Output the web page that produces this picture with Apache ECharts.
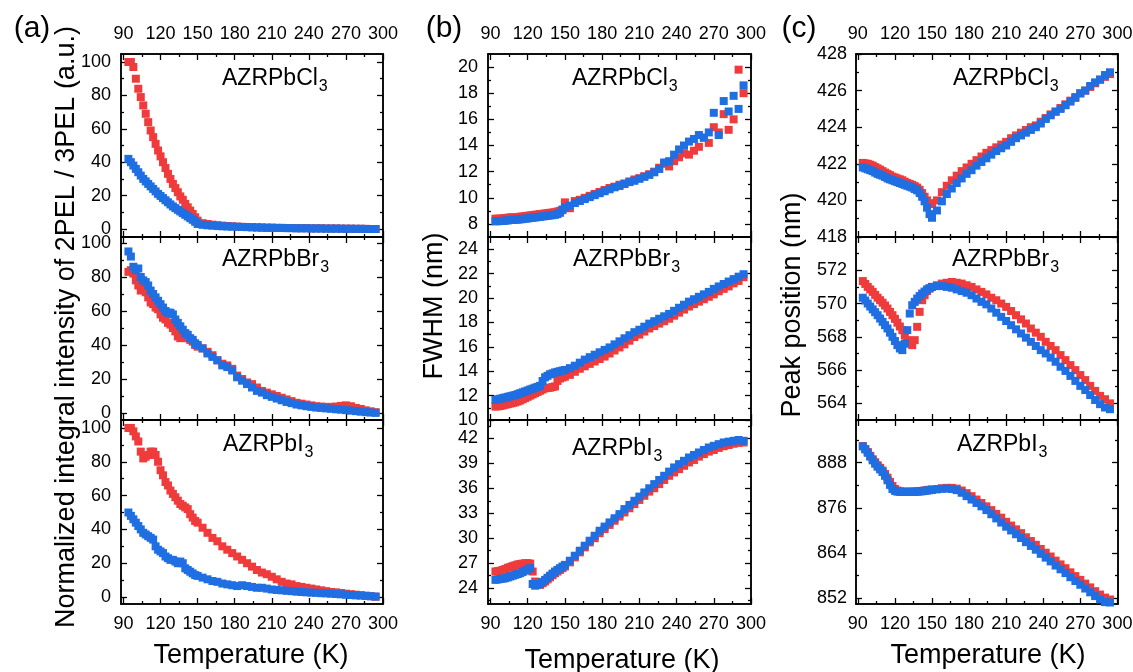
<!DOCTYPE html>
<html><head><meta charset="utf-8">
<script src="https://cdn.jsdelivr.net/npm/echarts@6/dist/echarts.min.js"></script>
<style>html,body{margin:0;padding:0;background:#fff}#c{width:1133px;height:672px}</style>
</head><body><div id="c"></div>
<script>
// ---------------- DATA ----------------
// temperatures (K): every 2 K up to 150 K, every 4 K above
const temps = [94,96,98,100,102,104,106,108,110,112,114,116,118,120,122,124,126,128,130,132,134,136,138,140,142,144,146,148,150,
  154,158,162,166,170,174,178,182,186,190,194,198,202,206,210,214,218,222,226,230,234,238,242,246,250,254,258,262,266,270,274,278,282,286,290,294];

const xTicks = [90,120,150,180,210,240,270,300];
const xMinor = [105,135,165,195,225,255,285];

// (a) Normalized integral intensity of 2PEL / 3PEL (a.u.)
const redIntCl  = [100,100,97,90,84,79,74,69,64,59,55,51,47,43.5,40,36.5,33,30,27,24.5,22,19.5,17.5,15,13,11,9,7,5,
  3.5,3,2.6,2.3,2,1.8,1.6,1.4,1.3,1.2,1.1,1,0.9,0.8,0.8,0.7,0.7,0.6,0.6,0.5,0.5,0.5,0.4,0.4,0.4,0.3,0.3,0.3,0.2,0.2,0.2,0.1,0.1,0.1,0,0];
const blueIntCl = [42,40,38,36,34,32,30,28.5,27,25.5,24,22.5,21,19.8,18.5,17.2,16,14.7,13.5,12.5,11.5,10.5,9.5,8.5,7.5,6.5,5.5,4.3,3,
  2.5,2.2,2,1.8,1.6,1.5,1.4,1.3,1.2,1.1,1,0.9,0.8,0.7,0.7,0.6,0.6,0.5,0.5,0.4,0.4,0.4,0.3,0.3,0.3,0.2,0.2,0.2,0.2,0.1,0.1,0.1,0.1,0,0,0];
const redIntBr  = [83,84,82,78,75,72,73,71,68,65,64,62,61,58,56,55,53,52,50,48,45,44,45,46,44,43,42,40,39,
  38,36,34,31,29,28,26,22,20,18,17,15,13,12,11,10,9,8,7,6,5.5,5,4.5,4,3.8,3.6,3.6,3.8,4.2,4.5,4,3,2.4,1.6,1,0.5];
const blueIntBr = [95,92,86,84,85,80,78,77,75,72,70,68,66,64,62,60,59,59,58,55,53,51,49,47,46,44,43,41,40,
  38,35,33,31,28,27,25,21,19,17,15,13,12,10.5,9.5,8.5,7.5,6.5,5.8,5,4.5,4,3.6,3.2,3,2.7,2.5,2.2,2,1.7,1.4,1.1,0.8,0.5,0.3,0.1];
const redIntI   = [100,100,98,95,92,86,82,83,84,86,86,84,80,75,72,68,66,63,61,59,57,55,54,53,52,49,47,45,44,
  41,38,35,33,30,28,26,24,22,20,18,16,14.5,13.5,12,10.5,9,8,7.5,6.5,6,5.5,5,4.5,4,3.5,3,2.8,2.4,2,1.7,1.4,1.1,0.8,0.5,0.2];
const blueIntI  = [50,48,46,44,42,40,38,37,36,35,34,30,28,27,26,24,23,22,22,21,20,21,20,17,16,15,14,13,12.5,
  11.5,10.5,9.5,9,8,7.5,7,6.5,7,6.5,6,5.5,5.5,5,4.5,4.2,4,3.7,3.5,3.2,3,2.8,2.6,2.5,2.3,2.2,2,1.8,1.6,1.4,1.2,1,0.9,0.7,0.5,0.3];
const intTicks = [0,20,40,60,80,100];
const intMinor = [10,30,50,70,90];

// (b) FWHM (nm)
const redFwCl  = [8.4,8.4,8.4,8.42,8.45,8.47,8.5,8.5,8.5,8.52,8.55,8.57,8.6,8.62,8.65,8.67,8.7,8.72,8.75,8.77,8.8,8.82,8.85,8.87,8.9,8.95,9.0,9.05,9.65,
  9.2,9.75,9.85,10.0,10.15,10.3,10.45,10.6,10.75,10.85,11.0,11.1,11.25,11.4,11.5,11.65,11.8,12.0,12.3,12.6,12.4,12.8,13.1,13.4,13.3,13.6,13.9,14.6,14.2,15.4,15.0,16.4,15.2,16.0,19.8,18.0];
const blueFwCl = [8.2,8.21,8.22,8.23,8.25,8.27,8.3,8.31,8.32,8.33,8.35,8.37,8.4,8.42,8.45,8.47,8.5,8.52,8.55,8.57,8.6,8.62,8.65,8.67,8.7,8.75,8.85,9.1,9.25,
  9.4,9.6,9.75,9.9,10.05,10.2,10.35,10.5,10.65,10.8,10.9,11.05,11.2,11.3,11.45,11.6,11.75,11.95,12.2,12.7,12.8,13.3,13.7,14.0,14.3,14.5,14.8,14.6,15.0,16.5,14.8,17.4,16.6,17.8,16.8,18.6];
const redFwBr  = [11.1,11.12,11.15,11.2,11.25,11.3,11.35,11.4,11.45,11.52,11.6,11.7,11.8,11.9,12.0,12.1,12.2,12.3,12.4,12.5,12.6,12.62,12.65,12.7,12.75,13.2,13.4,13.48,13.55,
  13.7,13.95,14.2,14.4,14.6,14.8,15.0,15.2,15.45,15.7,15.95,16.2,16.5,16.8,17.0,17.25,17.5,17.7,17.9,18.1,18.3,18.55,18.8,19.05,19.3,19.5,19.7,19.9,20.1,20.3,20.55,20.75,20.95,21.2,21.4,21.7];
const blueFwBr = [11.65,11.7,11.75,11.8,11.85,11.9,11.95,12.0,12.05,12.12,12.2,12.27,12.35,12.42,12.5,12.57,12.65,12.72,12.8,13.2,13.5,13.62,13.75,13.82,13.9,13.95,14.0,14.05,14.1,
  14.25,14.45,14.7,14.95,15.15,15.35,15.55,15.75,15.95,16.2,16.45,16.7,16.95,17.2,17.4,17.65,17.9,18.1,18.3,18.5,18.7,18.95,19.2,19.45,19.7,19.9,20.1,20.3,20.5,20.75,20.95,21.15,21.35,21.55,21.75,21.95];
const redFwI   = [26.0,26.05,26.1,26.2,26.3,26.45,26.55,26.65,26.75,26.85,26.9,26.95,27.0,27.0,26.95,26.0,24.8,24.5,24.4,24.6,24.8,25.05,25.3,25.55,25.8,26.0,26.2,26.4,26.6,
  27.1,27.7,28.3,28.9,29.5,30.0,30.6,31.1,31.6,32.1,32.6,33.1,33.6,34.1,34.6,35.1,35.6,36.0,36.5,37.0,37.5,37.9,38.3,38.7,39.1,39.4,39.8,40.1,40.4,40.6,40.85,41.05,41.2,41.35,41.45,41.5];
const blueFwI  = [25.0,25.05,25.1,25.15,25.2,25.3,25.4,25.5,25.6,25.7,25.8,25.95,26.1,26.25,26.4,24.5,24.3,24.4,24.5,24.75,25.0,25.25,25.5,25.75,26.0,26.2,26.4,26.6,26.8,
  27.3,27.9,28.5,29.1,29.7,30.3,30.9,31.4,31.9,32.4,32.9,33.5,34.0,34.5,35.0,35.5,36.0,36.5,37.0,37.5,38.0,38.5,38.9,39.3,39.7,40.0,40.3,40.6,40.9,41.1,41.3,41.5,41.6,41.7,41.8,41.7];
const fwClTicks = [8,10,12,14,16,18,20];
const fwClMinor = [9,11,13,15,17,19];
const fwBrTicks = [10,12,14,16,18,20,22,24];
const fwBrMinor = [11,13,15,17,19,21,23];
const fwITicks  = [24,27,30,33,36,39,42];
const fwIMinor  = [22.5,25.5,28.5,31.5,34.5,37.5,40.5,43.5];

// (c) Peak position (nm)
const redPkCl  = [422.05,422.02,422.0,421.95,421.9,421.82,421.75,421.68,421.6,421.52,421.45,421.38,421.3,421.25,421.2,421.15,421.1,421.02,420.95,420.9,420.85,420.78,420.7,420.58,420.4,420.2,420.0,419.85,419.8,
  420.0,420.45,420.8,421.1,421.35,421.6,421.8,422.0,422.2,422.4,422.6,422.75,422.9,423.05,423.2,423.4,423.55,423.7,423.85,424.0,424.1,424.3,424.5,424.7,424.85,425.05,425.25,425.45,425.65,425.85,426.0,426.2,426.4,426.6,426.75,426.9];
const bluePkCl = [421.8,421.75,421.7,421.65,421.6,421.52,421.45,421.4,421.35,421.28,421.2,421.15,421.1,421.05,421.0,420.95,420.9,420.85,420.8,420.75,420.7,420.62,420.55,420.4,420.2,419.95,419.6,419.25,419.05,
  419.45,419.95,420.35,420.65,420.95,421.2,421.45,421.65,421.9,422.1,422.3,422.5,422.7,422.85,423.0,423.2,423.4,423.55,423.7,423.85,424.0,424.2,424.45,424.65,424.85,425.0,425.2,425.4,425.6,425.85,426.0,426.25,426.45,426.6,426.85,427.0];
const redPkBr  = [571.35,571.18,571.0,570.85,570.7,570.52,570.35,570.2,570.05,569.88,569.7,569.5,569.3,569.08,568.85,568.62,568.4,568.1,567.8,567.6,567.5,567.8,568.6,569.5,570.2,570.5,570.75,570.9,571.0,
  571.1,571.2,571.25,571.3,571.25,571.2,571.1,571.0,570.85,570.7,570.55,570.35,570.2,570.0,569.8,569.55,569.3,569.05,568.8,568.5,568.25,568.0,567.7,567.45,567.2,566.9,566.6,566.3,566.0,565.7,565.4,565.05,564.75,564.45,564.25,564.0];
const bluePkBr = [570.35,570.18,570.0,569.82,569.65,569.48,569.3,569.1,568.9,568.7,568.5,568.25,568.0,567.75,567.5,567.3,567.2,567.6,568.4,569.4,569.9,570.1,570.3,570.45,570.6,570.72,570.85,570.92,571.0,
  571.05,571.05,571.0,570.95,570.85,570.75,570.65,570.5,570.3,570.1,569.95,569.7,569.45,569.2,568.95,568.7,568.45,568.2,567.95,567.7,567.45,567.2,567.0,566.75,566.5,566.2,565.95,565.65,565.35,565.05,564.8,564.5,564.2,563.95,563.75,563.65];
const redPkI   = [892.4,891.6,890.8,889.8,888.9,888.1,887.3,886.6,885.9,885.0,884.0,882.9,881.8,881.0,880.6,880.4,880.3,880.3,880.3,880.3,880.3,880.35,880.4,880.45,880.5,880.6,880.7,880.8,880.9,
  881.0,881.2,881.3,881.3,881.1,880.6,879.9,879.1,878.2,877.3,876.4,875.4,874.4,873.4,872.3,871.3,870.3,869.3,868.2,867.2,866.2,865.1,864.1,863.1,862.0,861.0,860.0,858.9,857.9,856.9,855.9,854.9,853.9,853.0,852.2,851.7];
const bluePkI  = [892.3,891.5,890.6,889.6,888.6,887.7,886.9,886.2,885.5,884.5,883.3,882.1,881.0,880.5,880.3,880.25,880.2,880.2,880.2,880.2,880.2,880.25,880.3,880.35,880.4,880.5,880.6,880.68,880.75,
  880.9,881.05,881.1,881.0,880.7,880.0,879.1,878.2,877.3,876.4,875.4,874.3,873.2,872.1,871.0,870.0,869.0,868.0,866.9,865.9,864.9,863.8,862.8,861.8,860.7,859.7,858.7,857.6,856.6,855.6,854.6,853.6,852.6,851.7,851.0,850.9];
const pkClTicks = [418,420,422,424,426,428];
const pkClMinor = [419,421,423,425,427];
const pkBrTicks = [564,566,568,570,572];
const pkBrMinor = [563,565,567,569,571,573];
const pkITicks  = [852,864,876,888];
const pkIMinor  = [858,870,882,894];

const compounds = ['AZRPbCl','AZRPbBr','AZRPbI'];

// ---------------- LAYOUT / STYLE ----------------
const FONT = "Arial, 'Liberation Sans', sans-serif";
const RED = '#EF3B3B', BLUE = '#1F6FE2';
const cols = [
  {l:121, r:383, xmin:88, xmax:300, lm:10},
  {l:488, r:751, xmin:88, xmax:300, lm:10},
  {l:856, r:1118, xmin:88.5, xmax:300.5, lm:9}
];
const rows = [{t:54,b:237},{t:237,b:420},{t:420,b:604}];

const panels = [
  {col:0,row:0,ymin:-4.8,ymax:104.8,yt:intTicks,ym:intMinor,red:redIntCl,blue:blueIntCl,lx:222,ly:67},
  {col:0,row:1,ymin:-4.1,ymax:103.5,yt:intTicks,ym:intMinor,red:redIntBr,blue:blueIntBr,lx:222,ly:248},
  {col:0,row:2,ymin:-4.1,ymax:104.7,yt:intTicks,ym:intMinor,red:redIntI,blue:blueIntI,lx:223,ly:433},
  {col:1,row:0,ymin:7,ymax:21,yt:fwClTicks,ym:fwClMinor,red:redFwCl,blue:blueFwCl,lx:572,ly:67},
  {col:1,row:1,ymin:10,ymax:25,yt:fwBrTicks,ym:fwBrMinor,red:redFwBr,blue:blueFwBr,lx:573,ly:248},
  {col:1,row:2,ymin:22.1,ymax:44.2,yt:fwITicks,ym:fwIMinor,red:redFwI,blue:blueFwI,lx:572,ly:437},
  {col:2,row:0,ymin:418,ymax:428,yt:pkClTicks,ym:pkClMinor,red:redPkCl,blue:bluePkCl,lx:953,ly:67},
  {col:2,row:1,ymin:563,ymax:574,yt:pkBrTicks,ym:pkBrMinor,red:redPkBr,blue:bluePkBr,lx:952,ly:248},
  {col:2,row:2,ymin:850.5,ymax:899.3,yt:pkITicks,ym:pkIMinor,red:redPkI,blue:bluePkI,lx:957,ly:433}
];

const grids=[], xAxes=[], yAxes=[], series=[], graphics=[];
const lineStyle = {color:'#000', width:1.5};
const labelStyle = {color:'#000', fontSize:18, fontFamily:FONT};

panels.forEach((p,i)=>{
  const c = cols[p.col], r = rows[p.row];
  const g = {left:c.l, top:r.t, width:c.r-c.l, height:r.b-r.t, show:false, containLabel:false, outerBoundsMode:'none'};
  grids.push(Object.assign({},g), Object.assign({},g));
  const gi = 2*i;
  const mkX = (gridIndex, position, ticks, len, showLabel) => ({
    type:'value', gridIndex, position, min:c.xmin, max:c.xmax,
    axisLine:{show:true, onZero:false, lineStyle},
    axisTick:{show:true, inside:true, length:len, customValues:ticks, lineStyle:{color:'#000',width:1.3}},
    axisLabel:{show:showLabel, customValues:xTicks, margin:11, ...labelStyle},
    splitLine:{show:false}, minorTick:{show:false}
  });
  const mkY = (gridIndex, position, ticks, len, showLabel) => ({
    type:'value', gridIndex, position, min:p.ymin, max:p.ymax,
    axisLine:{show:true, onZero:false, lineStyle},
    axisTick:{show:true, inside:true, length:len, customValues:ticks, lineStyle:{color:'#000',width:1.3}},
    axisLabel:{show:showLabel, customValues:p.yt, margin:c.lm, ...labelStyle},
    splitLine:{show:false}, minorTick:{show:false}
  });
  xAxes.push(
    mkX(gi,'bottom',xTicks,6,p.row===2),
    mkX(gi,'top',xTicks,6,p.row===0),
    mkX(gi+1,'bottom',xMinor,3,false),
    mkX(gi+1,'top',xMinor,3,false)
  );
  yAxes.push(
    mkY(gi,'left',p.yt,6,true),
    mkY(gi,'right',p.yt,6,false),
    mkY(gi+1,'left',p.ym,3,false),
    mkY(gi+1,'right',p.ym,3,false)
  );
  [[p.red,RED],[p.blue,BLUE]].forEach(([vals,color])=>{
    series.push({
      type:'scatter', xAxisIndex:4*i, yAxisIndex:4*i,
      symbol:'rect', symbolSize:8, silent:true,
      itemStyle:{color, opacity:1},
      data: temps.map((t,k)=>[t, vals[k]])
    });
  });
  graphics.push({
    type:'text', left:p.lx, top:p.ly, silent:true,
    style:{
      text:'{a|'+compounds[p.row]+'}{s|3}',
      rich:{
        a:{fontSize:23, fontFamily:FONT, fill:'#000', lineHeight:26, verticalAlign:'top'},
        s:{fontSize:16, fontFamily:FONT, fill:'#000', lineHeight:16, verticalAlign:'top', padding:[12,0,0,1]}
      }
    }
  });
});

const txt = (text, x, y, size, rot) => ({
  type:'text', x, y, rotation: rot||0, silent:true,
  style:{text, fontSize:size, fontFamily:FONT, fill:'#000', align:'center', verticalAlign:'middle', textAlign:'center', textVerticalAlign:'middle'}
});
graphics.push(
  txt('(a)', 32, 29, 30), txt('(b)', 444, 29, 30), txt('(c)', 799, 29, 30),
  txt('Temperature (K)', 251, 656, 27), txt('Temperature (K)', 622, 661, 27), txt('Temperature (K)', 988, 656, 27),
  txt('Normalized integral intensity of 2PEL / 3PEL (a.u.)', 67, 327, 27, Math.PI/2),
  txt('FWHM (nm)', 435, 306, 27, Math.PI/2),
  txt('Peak position (nm)', 793, 305, 27, Math.PI/2)
);

const chart = echarts.init(document.getElementById('c'), null, {renderer:'canvas', width:1133, height:672});
chart.setOption({
  animation:false,
  backgroundColor:'#fff',
  grid:grids, xAxis:xAxes, yAxis:yAxes, series, graphic:graphics
});
</script>
</body></html>
